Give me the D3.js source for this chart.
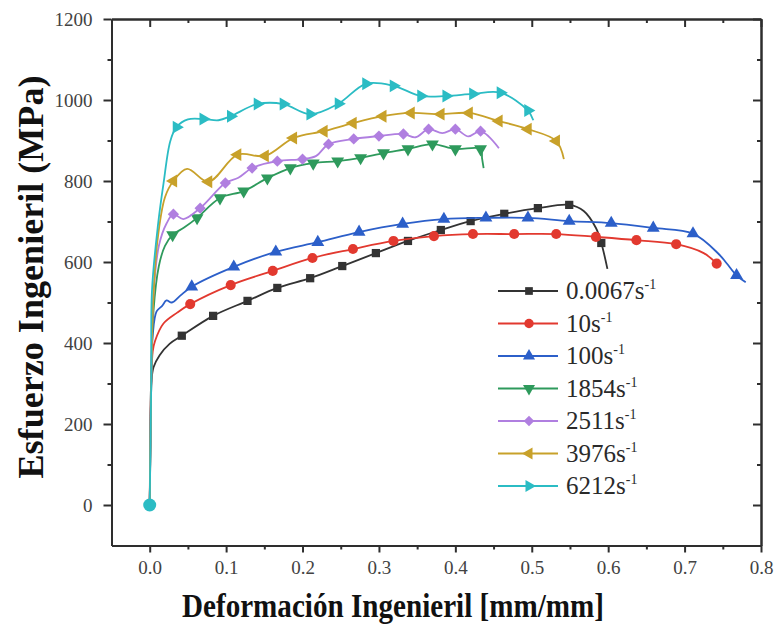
<!DOCTYPE html>
<html>
<head>
<meta charset="utf-8">
<script src="https://cdn.jsdelivr.net/npm/d3@7"></script>
<style>
  html, body { margin: 0; padding: 0; background: #ffffff; }
  svg { display: block; }
  svg text { font-family: "Liberation Serif", "Tinos", "DejaVu Serif", "Noto Serif", "Times New Roman", Times, serif !important; }
</style>
</head>
<body>
<svg id="chart" width="778" height="636"></svg>
<script>
// ---------- DATA (strain [mm/mm], stress [MPa], 1 = marker drawn) ----------
const seriesNames = ["0.0067", "10", "100", "1854", "2511", "3976", "6212"];

const rate0067 = [[0,0,0],[0.001,150,0],[0.002,300,0],[0.005,340,0],[0.013,370,0],[0.026,398,0],
  [0.042,418,1],[0.083,467,1],[0.128,504,1],[0.167,536,1],[0.21,560,1],[0.252,590,1],[0.296,622,1],
  [0.338,652,1],[0.381,679,1],[0.42,701,1],[0.464,719,1],[0.508,733,1],[0.549,741,1],[0.568,726,0],
  [0.584,684,0],[0.591,647,1],[0.599,583,0]];

const rate10 = [[0,0,0],[0.002,300,0],[0.004,380,0],[0.007,405,0],[0.018,448,0],[0.036,475,0],
  [0.053,496,1],[0.106,543,1],[0.161,578,1],[0.213,610,1],[0.266,632,1],[0.319,652,1],[0.372,664,1],
  [0.423,669,1],[0.477,669,1],[0.532,669,1],[0.584,662,1],[0.637,654,1],[0.689,644,1],[0.725,622,0],
  [0.742,596,1]];

const rate100 = [[0,0,0],[0.002,300,0],[0.004,420,0],[0.009,478,0],[0.016,491,0],[0.022,505,0],
  [0.029,500,0],[0.04,517,0],[0.055,539,1],[0.11,588,1],[0.165,625,1],[0.22,649,1],[0.274,674,1],
  [0.331,694,1],[0.385,706,1],[0.44,709,1],[0.495,709,1],[0.549,701,1],[0.604,696,1],[0.659,684,1],
  [0.711,670,1],[0.744,621,0],[0.755,597,0],[0.768,567,1],[0.78,550,0]];

const rate1854 = [[0,0,0],[0.002,300,0],[0.005,480,0],[0.012,590,0],[0.02,640,0],[0.03,667,1],
  [0.045,685,0],[0.062,709,1],[0.092,758,1],[0.123,775,1],[0.154,807,1],[0.184,832,1],[0.214,844,1],
  [0.246,849,1],[0.276,857,1],[0.306,869,1],[0.338,879,1],[0.37,891,1],[0.4,879,1],[0.433,879,1],
  [0.435,855,0],[0.437,832,0]];

const rate2511 = [[0,0,0],[0.002,300,0],[0.005,520,0],[0.012,640,0],[0.022,695,0],[0.031,718,1],
  [0.044,706,0],[0.066,733,1],[0.099,795,1],[0.116,808,0],[0.134,832,1],[0.167,849,1],[0.2,854,1],
  [0.218,862,0],[0.234,891,1],[0.267,904,1],[0.3,911,1],[0.332,916,1],[0.348,908,0],[0.365,928,1],
  [0.383,918,0],[0.4,928,1],[0.417,910,0],[0.433,923,1],[0.457,881,0]];

const rate3976 = [[0,0,0],[0.002,300,0],[0.004,480,0],[0.01,650,0],[0.02,760,0],[0.031,800,1],
  [0.049,830,0],[0.077,798,1],[0.115,865,1],[0.151,862,1],[0.188,906,1],[0.228,923,1],[0.266,943,1],
  [0.305,960,1],[0.342,968,1],[0.381,965,1],[0.418,968,1],[0.457,948,1],[0.495,928,1],[0.532,899,1],
  [0.542,854,0]];

const rate6212 = [[0,0,0],[0.002,300,0],[0.003,530,0],[0.011,694,0],[0.018,793,0],[0.027,899,0],
  [0.035,933,1],[0.05,952,0],[0.07,953,1],[0.09,950,0],[0.106,960,1],[0.141,990,1],[0.175,990,1],
  [0.21,965,1],[0.247,991,1],[0.283,1040,1],[0.319,1035,1],[0.355,1010,1],[0.388,1010,1],
  [0.423,1015,1],[0.459,1018,1],[0.495,974,1],[0.502,950,0]];

const originPoint = [0, 0];

const xTickValues = [0, 0.1, 0.2, 0.3, 0.4, 0.5, 0.6, 0.7, 0.8];
const xMinorValues = [0.05, 0.15, 0.25, 0.35, 0.45, 0.55, 0.65, 0.75];
const yTickValues = [0, 200, 400, 600, 800, 1000, 1200];
const yMinorValues = [100, 300, 500, 700, 900, 1100];

const xTitle = "Deformación Ingenieril [mm/mm]";
const yTitle = "Esfuerzo Ingenieril (MPa)";

// ---------- STYLE ----------
const FONT = '"Liberation Serif", "Tinos", "DejaVu Serif", "Noto Serif", "Times New Roman", Times, serif';
const seriesData = [rate0067, rate10, rate100, rate1854, rate2511, rate3976, rate6212];
const colors = ["#333333", "#e2392f", "#2c5fc9", "#2e9a5c", "#b07fe0", "#c8a12a", "#2bbcc4"];
const shapes = ["square", "circle", "up", "down", "diamond", "left", "right"];

const svg = d3.select("#chart");
const plot = { left: 111.5, right: 761, top: 19, bottom: 545.5 };

const x = d3.scaleLinear().domain([-0.05, 0.8]).range([plot.left, plot.right]);
const y = d3.scaleLinear().domain([-100, 1200]).range([plot.bottom, plot.top]);

const axisColor = "#2e2e2e";

function styleAxis(g) {
  g.attr("font-family", FONT);
  g.selectAll("path.domain").attr("stroke", axisColor).attr("stroke-width", 2);
  g.selectAll(".tick line").attr("stroke", axisColor).attr("stroke-width", 2);
  g.selectAll(".tick text").attr("fill", "#424242")
    .attr("font-family", FONT)
    .attr("font-size", 19);
}

// bottom axis (outward ticks, labelled)
svg.append("g").attr("transform", `translate(0,${plot.bottom})`)
  .call(d3.axisBottom(x).tickValues(xTickValues).tickSize(7).tickSizeOuter(0).tickPadding(8)
    .tickFormat(d3.format(".1f")))
  .call(styleAxis);
svg.append("g").attr("transform", `translate(0,${plot.bottom})`)
  .call(d3.axisBottom(x).tickValues(xMinorValues).tickSize(4).tickSizeOuter(0).tickFormat(""))
  .call(styleAxis);

// top axis (inward ticks)
svg.append("g").attr("transform", `translate(0,${plot.top})`)
  .call(d3.axisTop(x).tickValues(xTickValues).tickSize(-8).tickSizeOuter(0).tickFormat(""))
  .call(styleAxis);
svg.append("g").attr("transform", `translate(0,${plot.top})`)
  .call(d3.axisTop(x).tickValues(xMinorValues).tickSize(-4).tickSizeOuter(0).tickFormat(""))
  .call(styleAxis);

// left axis (outward ticks, labelled)
svg.append("g").attr("transform", `translate(${plot.left},0)`)
  .call(d3.axisLeft(y).tickValues(yTickValues).tickSize(8).tickSizeOuter(0).tickPadding(11)
    .tickFormat(d3.format("d")))
  .call(styleAxis);
svg.append("g").attr("transform", `translate(${plot.left},0)`)
  .call(d3.axisLeft(y).tickValues(yMinorValues).tickSize(4).tickSizeOuter(0).tickFormat(""))
  .call(styleAxis);

// right axis (inward ticks)
svg.append("g").attr("transform", `translate(${plot.right},0)`)
  .call(d3.axisRight(y).tickValues(yTickValues).tickSize(-8).tickSizeOuter(0).tickFormat(""))
  .call(styleAxis);
svg.append("g").attr("transform", `translate(${plot.right},0)`)
  .call(d3.axisRight(y).tickValues(yMinorValues).tickSize(-4).tickSizeOuter(0).tickFormat(""))
  .call(styleAxis);

// axis titles
svg.append("text")
  .attr("x", 393).attr("y", 617)
  .attr("text-anchor", "middle")
  .attr("font-family", FONT)
  .attr("font-weight", "bold").attr("font-size", 33)
  .attr("textLength", 422).attr("lengthAdjust", "spacingAndGlyphs")
  .attr("fill", "#111")
  .text(xTitle);

svg.append("text")
  .attr("transform", "translate(43,277) rotate(-90)")
  .attr("text-anchor", "middle")
  .attr("font-family", FONT)
  .attr("font-weight", "bold").attr("font-size", 35)
  .attr("textLength", 403).attr("lengthAdjust", "spacingAndGlyphs")
  .attr("fill", "#111")
  .text(yTitle);

// ---------- MARKERS ----------
function markerPath(shape, s) {
  switch (shape) {
    case "square": return d3.symbol(d3.symbolSquare, s * 0.85)();
    case "circle": return d3.symbol(d3.symbolCircle, s)();
    case "diamond": return d3.symbol(d3.symbolSquare, s * 0.8)();
    default: return d3.symbol(d3.symbolTriangle, s * 0.9)();
  }
}
function markerRotate(shape) {
  return { down: 180, left: -90, right: 90, diamond: 45 }[shape] || 0;
}

const line = d3.line()
  .x(d => x(d[0])).y(d => y(d[1]))
  .curve(d3.curveCatmullRom.alpha(0.5));

const curves = svg.append("g");
seriesData.forEach((data, i) => {
  const g = curves.append("g");
  g.append("path")
    .datum(data)
    .attr("d", line)
    .attr("fill", "none")
    .attr("stroke", colors[i])
    .attr("stroke-width", 1.8)
    .attr("stroke-linejoin", "round");
  g.selectAll("path.mk")
    .data(data.filter(d => d[2] === 1))
    .join("path")
    .attr("class", "mk")
    .attr("d", markerPath(shapes[i], 80))
    .attr("transform", d => `translate(${x(d[0])},${y(d[1])}) rotate(${markerRotate(shapes[i])})`)
    .attr("fill", colors[i]);
});

// origin marker
svg.append("circle")
  .attr("cx", x(originPoint[0])).attr("cy", y(originPoint[1]))
  .attr("r", 6.5).attr("fill", colors[6]);

// ---------- LEGEND ----------
const legend = svg.append("g");
const legendY = d3.scaleLinear().domain([0, 6]).range([291, 486]);
seriesNames.forEach((name, i) => {
  const ly = legendY(i);
  legend.append("line")
    .attr("x1", 498).attr("x2", 558).attr("y1", ly).attr("y2", ly)
    .attr("stroke", colors[i]).attr("stroke-width", 1.8);
  legend.append("path")
    .attr("d", markerPath(shapes[i], 70))
    .attr("transform", `translate(529,${ly}) rotate(${markerRotate(shapes[i])})`)
    .attr("fill", colors[i]);
  const t = legend.append("text")
    .attr("x", 566).attr("y", ly + 8)
    .attr("font-family", FONT)
    .attr("font-size", 25).attr("fill", "#2a2a2a");
  t.append("tspan").text(name + "s");
  t.append("tspan").attr("dy", -10).attr("font-size", 14).text("-1");
});
</script>
</body>
</html>
